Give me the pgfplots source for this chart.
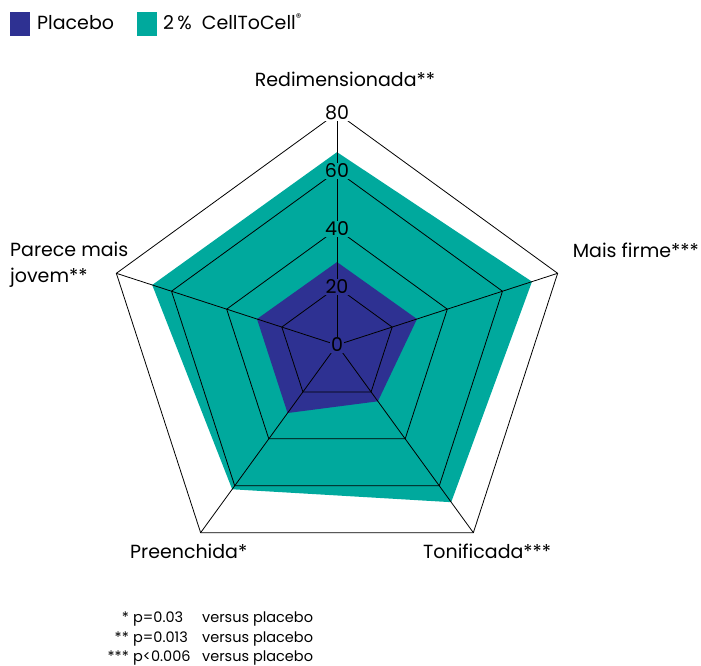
\documentclass[border=0pt]{standalone}
\usepackage{pgfplots}
\usepgfplotslibrary{polar}
\pgfplotsset{compat=1.18}
\usepackage{fontspec}
\setmainfont{Poppins}
\definecolor{plac}{HTML}{2E3192}
\definecolor{cell}{HTML}{00A99D}
\begin{document}
\begin{tikzpicture}[x=1pt,y=1pt]
\path[use as bounding box] (-337,-321) rectangle (364,345);
\begin{polaraxis}[at={(0,0)}, anchor=center, width=464pt, height=464pt, scale only axis,
  ymin=0, ymax=80, xmin=0, xmax=360, hide axis, clip=false]
% CellToCell 2%
\addplot[fill=cell, draw=none] coordinates {(90,66.5) (18,70.7) (306,67.0) (234,61.5) (162,67.0) (90,66.5)};
% Placebo
\addplot[fill=plac, draw=none] coordinates {(90,28.6) (18,29.0) (306,24.0) (234,29.0) (162,29.0) (90,28.6)};
% grid rings
\addplot[black, line width=0.8pt] coordinates {(90,20) (18,20) (306,20) (234,20) (162,20) (90,20)};
\addplot[black, line width=0.8pt] coordinates {(90,40) (18,40) (306,40) (234,40) (162,40) (90,40)};
\addplot[black, line width=0.8pt] coordinates {(90,60) (18,60) (306,60) (234,60) (162,60) (90,60)};
\addplot[black, line width=0.8pt] coordinates {(90,80) (18,80) (306,80) (234,80) (162,80) (90,80)};
% spokes
\addplot[black, line width=0.8pt] coordinates {(90,0) (90,80)};
\addplot[black, line width=0.8pt] coordinates {(18,0) (18,80)};
\addplot[black, line width=0.8pt] coordinates {(306,0) (306,80)};
\addplot[black, line width=0.8pt] coordinates {(234,0) (234,80)};
\addplot[black, line width=0.8pt] coordinates {(162,0) (162,80)};
% radial labels
\node[fill=plac, inner sep=1pt, font=\fontsize{19}{22}\selectfont] at (axis cs:90,0) {0};
\node[fill=plac, inner sep=1pt, font=\fontsize{19}{22}\selectfont] at (axis cs:90,20) {20};
\node[fill=cell, inner sep=1pt, font=\fontsize{19}{22}\selectfont] at (axis cs:90,40) {40};
\node[fill=cell, inner sep=1pt, font=\fontsize{19}{22}\selectfont] at (axis cs:90,60) {60};
\node[fill=white, inner sep=1pt, font=\fontsize{19}{22}\selectfont] at (axis cs:90,80) {80};
\end{polaraxis}
% category labels
\begin{scope}[every node/.style={inner sep=0pt, font=\fontsize{19}{22}\selectfont}]
\node[anchor=base] at (8,258) {Redimensionada**};
\node[anchor=base east] at (362,87) {Mais firme***};
\node[anchor=base west] at (-327,88) {Parece mais};
\node[anchor=base west] at (-327,62) {jovem**};
\node[anchor=base west] at (-207,-213) {Preenchida*};
\node[anchor=base west] at (86,-213) {Tonificada***};
% legend
\fill[plac] (-327,333) rectangle (-307,309);
\fill[cell] (-200,333) rectangle (-180,309);
\node[anchor=base west] at (-300,315) {Placebo};
\node[anchor=base west] at (-174,315) {2\,\% \ CellToCell\raisebox{0.45em}{\fontsize{11}{11}\selectfont\textregistered}};
\end{scope}
% footnotes
\begin{scope}[every node/.style={inner sep=0pt, font=\fontsize{14.5}{17}\selectfont}]
\node[anchor=base east] at (-208,-277) {*};
\node[anchor=base east] at (-208,-297) {**};
\node[anchor=base east] at (-208,-316) {***};
\node[anchor=base west] at (-204,-277) {p=0.03};
\node[anchor=base west] at (-204,-297) {p=0.013};
\node[anchor=base west] at (-204,-316) {p<0.006};
\node[anchor=base west] at (-135,-277) {versus placebo};
\node[anchor=base west] at (-135,-297) {versus placebo};
\node[anchor=base west] at (-135,-316) {versus placebo};
\end{scope}
\end{tikzpicture}
\end{document}
